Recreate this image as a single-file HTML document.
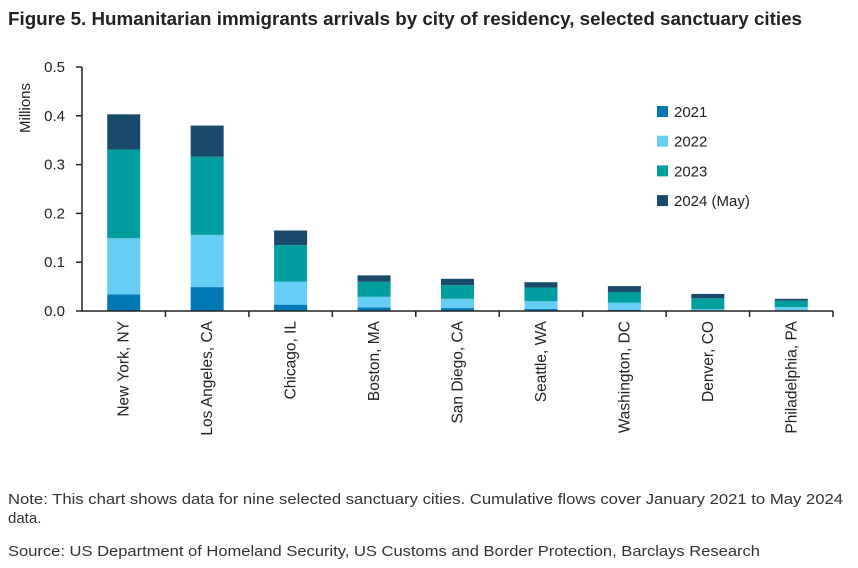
<!DOCTYPE html>
<html><head><meta charset="utf-8"><style>
body{margin:0;background:#fff;font-family:"Liberation Sans",sans-serif;}
</style></head><body>
<svg width="858" height="563" xmlns="http://www.w3.org/2000/svg" font-family="Liberation Sans, sans-serif">
<text x="8" y="25" font-size="18" font-weight="bold" fill="#222" textLength="794" lengthAdjust="spacingAndGlyphs">Figure 5. Humanitarian immigrants arrivals by city of residency, selected sanctuary cities</text>
<g id="plot"></g>
<text x="8" y="504" font-size="15" fill="#333" textLength="835" lengthAdjust="spacingAndGlyphs">Note: This chart shows data for nine selected sanctuary cities. Cumulative flows cover January 2021 to May 2024</text>
<text x="8" y="523" font-size="15" fill="#333">data.</text>
<text x="8" y="556" font-size="15" fill="#333" textLength="752" lengthAdjust="spacingAndGlyphs">Source: US Department of Homeland Security, US Customs and Border Protection, Barclays Research</text>
</svg>
<script>
const categories=["New York, NY","Los Angeles, CA","Chicago, IL","Boston, MA","San Diego, CA","Seattle, WA","Washington, DC","Denver, CO","Philadelphia, PA"];
const seriesNames=["2021","2022","2023","2024 (May)"];
const s2021=[0.034,0.049,0.013,0.0075,0.006,0.004,0.002,0.001,0.001];
const s2022=[0.115,0.107,0.047,0.0215,0.019,0.016,0.015,0.003,0.007];
const s2023=[0.182,0.160,0.075,0.031,0.028,0.028,0.022,0.022,0.013];
const s2024=[0.072,0.064,0.030,0.013,0.013,0.011,0.012,0.009,0.004];
const yTicks=[0,0.1,0.2,0.3,0.4,0.5];
const yTickLabels=["0.0","0.1","0.2","0.3","0.4","0.5"];
const colors=["#0079b5","#66cdf4","#009e9e","#1a4a6b"];
const NS="http://www.w3.org/2000/svg";
const g=document.getElementById('plot');
const x0=82,x1=833,y0=311,yTop=67;
const y=v=>y0-(v/0.5)*(y0-yTop);
const band=(x1-x0)/categories.length;
const xc=i=>x0+band*(i+0.5);
function mk(t,a){const e=document.createElementNS(NS,t);for(const k in a)e.setAttribute(k,a[k]);g.appendChild(e);return e;}
const series=[s2021,s2022,s2023,s2024];
categories.forEach((c,i)=>{let acc=0;series.forEach((s,j)=>{const r=mk('rect',{x:xc(i)-16.5,y:y(acc+s[i]),width:33,height:y(acc)-y(acc+s[i]),fill:colors[j]});


acc+=s[i];});
const t=mk('text',{x:0,y:0,'font-size':15.5,fill:'#222','text-anchor':'end',transform:`translate(${xc(i)+5},321) rotate(-90)`});t.textContent=c;


const tk=mk('line',{x1:x0+band*(i+1),x2:x0+band*(i+1),y1:y0,y2:y0+6,stroke:'#222','stroke-width':1.5});


});
yTicks.forEach((v,k)=>{const l=mk('line',{x1:x0-6,x2:x0,y1:y(v),y2:y(v),stroke:'#222','stroke-width':1.5});


const t=mk('text',{x:x0-17,y:y(v)+5,'font-size':15,fill:'#222','text-anchor':'end'});t.textContent=yTickLabels[k];

});
const ya=mk('line',{x1:x0,x2:x0,y1:yTop,y2:y0,stroke:'#222','stroke-width':1.5});


const xa=mk('line',{x1:x0,x2:x1,y1:y0,y2:y0,stroke:'#222','stroke-width':1.5});


const yt=mk('text',{x:0,y:0,'font-size':15,fill:'#222','text-anchor':'middle',transform:'translate(30,108) rotate(-90)'});yt.textContent='Millions';


seriesNames.forEach((n,j)=>{const r=mk('rect',{x:657,y:106+j*29.7,width:11,height:11,fill:colors[j]});


const t=mk('text',{x:674,y:117+j*29.7,'font-size':15,fill:'#222'});t.textContent=n;

});
</script>
</body></html>
